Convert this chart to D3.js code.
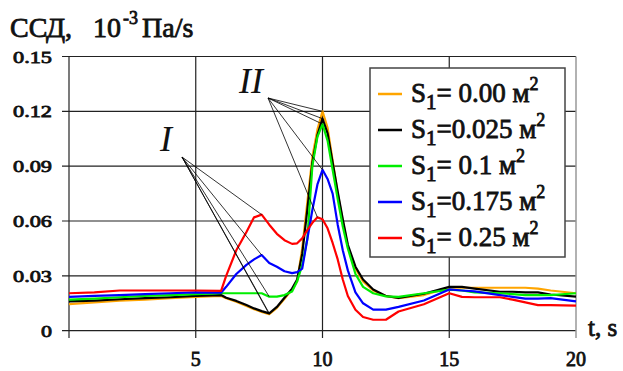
<!DOCTYPE html>
<html lang="ru">
<head>
<meta charset="UTF-8" />
<title>ССД</title>
<script src="https://d3js.org/d3.v7.min.js"></script>
<style>
    body { margin: 0; background: #fff; }
    svg { display: block; }
    .b { stroke: #111; stroke-width: 0.8; paint-order: stroke; }
</style>
</head>
<body>
<svg id="chart" width="623" height="371"></svg>
<script>
    // time, s
    const time = [0, 1, 2, 3, 4, 5, 6, 6.2, 6.6, 7, 7.3, 7.6, 7.9, 8.2, 8.5, 8.8, 9, 9.2, 9.4, 9.6, 9.8, 10,
        10.2, 10.4, 10.6, 10.8, 11, 11.3, 11.6, 12, 12.5, 13, 14, 15, 15.5, 16, 17, 17.5, 18, 18.5, 19, 20];

    // ССД, 10^-3 Па/s for each S1
    const s000 = [0.0145, 0.0155, 0.0165, 0.017, 0.0178, 0.0185, 0.019, 0.0178, 0.0158, 0.0135, 0.0118, 0.0102, 0.009,
        0.0125, 0.0175, 0.0225, 0.027, 0.045, 0.07, 0.095, 0.11, 0.12,
        0.111, 0.093, 0.075, 0.06, 0.046, 0.034, 0.027, 0.022, 0.019, 0.0178,
        0.0195, 0.0235, 0.0235, 0.0235, 0.0235, 0.0235, 0.0235, 0.023, 0.022, 0.0205];
    const s025 = [0.016, 0.0165, 0.0172, 0.0178, 0.0183, 0.019, 0.0195, 0.018, 0.0163, 0.014, 0.0122, 0.0107, 0.0095,
        0.013, 0.018, 0.023, 0.028, 0.042, 0.066, 0.092, 0.107, 0.116,
        0.108, 0.092, 0.076, 0.061, 0.047, 0.035, 0.028, 0.0225, 0.019, 0.018,
        0.0202, 0.024, 0.024, 0.023, 0.0213, 0.0213, 0.021, 0.021, 0.0198, 0.0186];
    const s100 = [0.017, 0.0175, 0.0183, 0.019, 0.0195, 0.02, 0.0205, 0.0205, 0.0205, 0.0205, 0.0205, 0.0205, 0.0186,
        0.0186, 0.0195, 0.0215, 0.027, 0.036, 0.05, 0.09, 0.106, 0.113,
        0.104, 0.088, 0.072, 0.057, 0.045, 0.031, 0.024, 0.0205, 0.0188, 0.0185,
        0.0205, 0.0225, 0.022, 0.021, 0.0205, 0.02, 0.0195, 0.0195, 0.0195, 0.0205];
    const s175 = [0.0185, 0.019, 0.0195, 0.02, 0.0205, 0.021, 0.0208, 0.024, 0.031, 0.036, 0.039, 0.0414, 0.037,
        0.035, 0.0325, 0.0315, 0.032, 0.034, 0.05, 0.066, 0.08, 0.088,
        0.083, 0.075, 0.058, 0.044, 0.033, 0.021, 0.015, 0.0115, 0.0115, 0.013,
        0.0165, 0.0226, 0.022, 0.0215, 0.0195, 0.0185, 0.0175, 0.0175, 0.0178, 0.016];
    const s250 = [0.0205, 0.021, 0.022, 0.022, 0.022, 0.022, 0.0218, 0.03, 0.044, 0.054, 0.062, 0.0635, 0.058,
        0.053, 0.0495, 0.0475, 0.0478, 0.0505, 0.055, 0.059, 0.062, 0.061,
        0.056, 0.048, 0.039, 0.028, 0.019, 0.0115, 0.0075, 0.006, 0.006, 0.0105,
        0.0145, 0.0205, 0.0185, 0.0183, 0.0183, 0.017, 0.0155, 0.014, 0.014, 0.0137];

    const areaLabels = ["0.00", "0.025", "0.1", "0.175", "0.25"];
    const colors = ["#ffa500", "#000000", "#00ee00", "#0000ff", "#ff0000"];
    // which extremum the "I" pointer goes to
    const pointerI = ["min", "min", "min", "max", "max"];

    const xTicks = [5, 10, 15, 20];
    const yTicks = [0, 0.03, 0.06, 0.09, 0.12, 0.15];

    const series = [s000, s025, s100, s175, s250].map((vals, i) => ({
        label: areaLabels[i],
        color: colors[i],
        kind: pointerI[i],
        points: time.map((t, j) => ({ t, v: vals[j] }))
    }));

    const svg = d3.select("#chart")
        .attr("font-family", "'Liberation Serif', 'DejaVu Serif', serif")
        .attr("fill", "#111");
    const x = d3.scaleLinear().domain([0, 20]).range([69, 576]);
    const y = d3.scaleLinear().domain([0, 0.15]).range([330.7, 56.5]);
    const bottom = 338;

    // grid
    const grid = svg.append("g").attr("stroke", "#222").attr("stroke-width", 1.2);
    grid.selectAll("line.h").data(yTicks).join("line")
        .attr("class", "h")
        .attr("x1", 62).attr("x2", x(20))
        .attr("y1", d => y(d)).attr("y2", d => y(d));
    grid.selectAll("line.v").data([0, 5, 10, 15]).join("line")
        .attr("class", "v")
        .attr("x1", d => x(d)).attr("x2", d => x(d))
        .attr("y1", y(0.15)).attr("y2", bottom);
    svg.append("line")
        .attr("x1", x(20)).attr("x2", x(20))
        .attr("y1", y(0.15)).attr("y2", bottom)
        .attr("stroke", "#999").attr("stroke-width", 1.5);

    // y tick labels
    svg.append("g").selectAll("text").data(yTicks).join("text")
        .attr("class", "b")
        .attr("x", 52).attr("y", d => y(d) + 6)
        .attr("text-anchor", "end")
        .attr("font-size", 17)
        .attr("textLength", d => d === 0 ? 11 : 39)
        .attr("lengthAdjust", "spacingAndGlyphs")
        .text(d => d === 0 ? "0" : d3.format(".2f")(d));

    // x tick labels
    svg.append("g").selectAll("text").data(xTicks).join("text")
        .attr("class", "b")
        .attr("x", d => x(d)).attr("y", 366)
        .attr("text-anchor", "middle")
        .attr("font-size", 20)
        .text(d => d);

    svg.append("text")
        .attr("class", "b")
        .attr("x", 588).attr("y", 336)
        .attr("font-size", 25)
        .text("t, s");

    // title
    const title = svg.append("text")
        .attr("class", "b")
        .attr("x", 10).attr("y", 37)
        .attr("font-size", 28);
    title.append("tspan").text("ССД,");
    title.append("tspan").attr("x", 93).text("10");
    title.append("tspan").attr("x", 123).attr("font-size", 18).attr("dy", -13).text("-3");
    title.append("tspan").attr("x", 142).attr("dy", 13).text("Па/s");

    // curves
    const line = d3.line().x(d => x(d.t)).y(d => y(d.v));
    svg.append("g").selectAll("path").data(series).join("path")
        .attr("d", d => line(d.points))
        .attr("fill", "none")
        .attr("stroke", d => d.color)
        .attr("stroke-width", 2.2)
        .attr("stroke-linejoin", "round");

    // pointers I and II
    function extremum(points, lo, hi, kind) {
        const win = points.filter(p => p.t >= lo && p.t <= hi);
        return kind === "min" ? win[d3.minIndex(win, p => p.v)] : win[d3.maxIndex(win, p => p.v)];
    }
    const pointers = svg.append("g").attr("stroke", "#000").attr("stroke-width", 0.8);
    const originII = [268, 98], originI = [182, 157];
    series.forEach(s => {
        const p2 = extremum(s.points, 9, 11, "max");
        pointers.append("line")
            .attr("x1", originII[0]).attr("y1", originII[1])
            .attr("x2", x(p2.t)).attr("y2", y(p2.v));
        const p1 = extremum(s.points, 7, 8.5, s.kind);
        pointers.append("line")
            .attr("x1", originI[0]).attr("y1", originI[1])
            .attr("x2", x(p1.t)).attr("y2", y(p1.v));
    });
    svg.append("text").attr("x", 239).attr("y", 93)
        .attr("font-size", 36).attr("font-style", "italic").text("II");
    svg.append("text").attr("x", 160).attr("y", 151)
        .attr("font-size", 36).attr("font-style", "italic").text("I");

    // legend
    const legend = svg.append("g");
    legend.append("rect")
        .attr("x", 370).attr("y", 68).attr("width", 195).attr("height", 189)
        .attr("fill", "#fff").attr("stroke", "#444").attr("stroke-width", 1.5);
    const item = legend.selectAll("g.item").data(series).join("g")
        .attr("class", "item")
        .attr("transform", (d, i) => `translate(0,${94 + i * 36})`);
    item.append("line")
        .attr("x1", 378).attr("x2", 402)
        .attr("stroke", d => d.color).attr("stroke-width", 2.5);
    const lt = item.append("text")
        .attr("class", "b")
        .attr("x", 411).attr("y", 8)
        .attr("font-size", 27);
    lt.append("tspan").text("S");
    lt.append("tspan").attr("font-size", 21).attr("dy", 7).text("1");
    lt.append("tspan").attr("dy", -7).text(d => d.label.length > 4 ? "=" + d.label + " м" : "= " + d.label + " м");
    lt.append("tspan").attr("font-size", 18).attr("dy", -12).text("2");
</script>
</body>
</html>
